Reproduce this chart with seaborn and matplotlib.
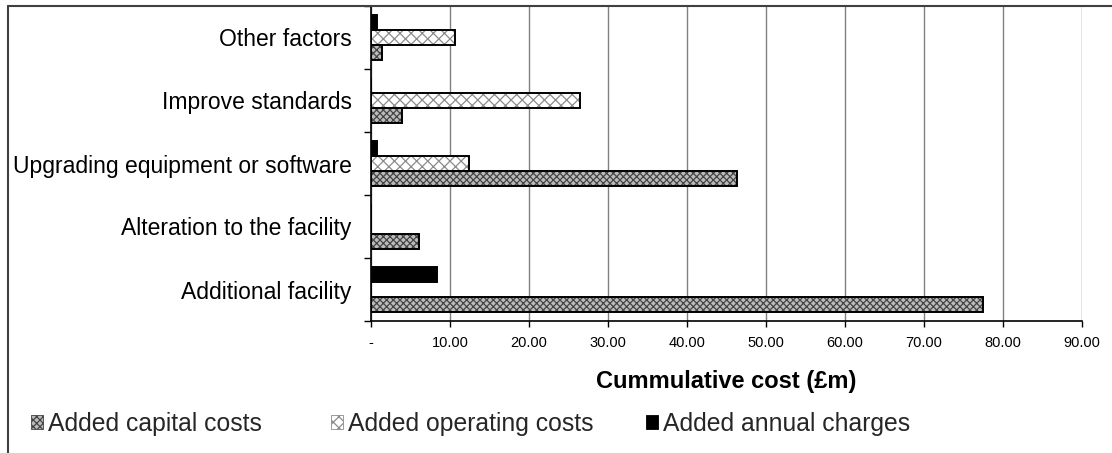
import numpy as np
import pandas as pd
import matplotlib
matplotlib.use("Agg")
import matplotlib.pyplot as plt
from matplotlib.lines import Line2D
from matplotlib.patches import Patch
import seaborn as sns

# ---- data -------------------------------------------------------------
categories = [
    "Other factors",
    "Improve standards",
    "Upgrading equipment or software",
    "Alteration to the facility",
    "Additional facility",
]
capital_costs = [1.4, 3.9, 46.3, 6.1, 77.5]
operating_costs = [10.6, 26.5, 12.4, 0.0, 0.0]
annual_charges = [0.8, 0.0, 0.8, 0.0, 8.4]

series_names = ["Added capital costs", "Added operating costs", "Added annual charges"]
x_ticks = [0, 10, 20, 30, 40, 50, 60, 70, 80, 90]
x_tick_labels = ["-", "10.00", "20.00", "30.00", "40.00", "50.00",
                 "60.00", "70.00", "80.00", "90.00"]
x_label = "Cummulative cost (£m)"

# ---- styling ----------------------------------------------------------
sns.set_theme(style="white")
plt.rcParams["font.family"] = ["Liberation Sans", "DejaVu Sans"]
plt.rcParams["hatch.linewidth"] = 0.9

styles = {
    "Added capital costs":   dict(face="#bcbcbc", hatch="xxxxx", hcolor="#454545"),
    "Added operating costs": dict(face="#ffffff", hatch="xxx",   hcolor="#8c8c8c"),
    "Added annual charges":  dict(face="#000000", hatch="",      hcolor="#000000"),
}

df = pd.DataFrame({
    "category": categories * 3,
    "series": ([series_names[0]] * len(categories)
               + [series_names[1]] * len(categories)
               + [series_names[2]] * len(categories)),
    "value": capital_costs + operating_costs + annual_charges,
})

# top-to-bottom within each group: annual, operating, capital
hue_order = [series_names[2], series_names[1], series_names[0]]

fig = plt.figure(figsize=(11.12, 4.53), dpi=100)
ax = fig.add_axes([371 / 1112, 1 - 321 / 453, 711 / 1112, 315 / 453])

# filled, hatched bars
sns.barplot(data=df, x="value", y="category", hue="series", order=categories,
            hue_order=hue_order, orient="h", width=0.72, errorbar=None,
            palette=[styles[s]["face"] for s in hue_order], saturation=1,
            legend=False, ax=ax)
for name, cont in zip(hue_order, ax.containers):
    st = styles[name]
    for bar in cont:
        bar.set_hatch(st["hatch"])
        bar.set_edgecolor(st["hcolor"])
        bar.set_linewidth(0)

# black outlines on top
sns.barplot(data=df, x="value", y="category", hue="series", order=categories,
            hue_order=hue_order, orient="h", width=0.72, errorbar=None,
            palette=["black"] * 3, fill=False, linewidth=1.4,
            legend=False, ax=ax)

# ---- axes -------------------------------------------------------------
ax.set_xlim(0, 90)
ax.set_ylim(len(categories) - 0.5, -0.5)
ax.set_xticks(x_ticks)
ax.set_xticklabels(x_tick_labels, fontsize=10.5)
ax.set_yticks(range(len(categories)))
ax.set_yticklabels(categories, fontsize=16.5)
ax.set_yticks(np.arange(-0.5, len(categories), 1.0), minor=True)
ax.tick_params(axis="y", which="major", length=0, pad=14, colors="black")
ax.tick_params(axis="y", which="minor", length=5, width=1, color="black",
               direction="out", left=True)
ax.tick_params(axis="x", which="major", length=4, width=1, color="black",
               direction="out", bottom=True, pad=7, labelcolor="black")
ax.set_ylabel("")
ax.set_xlabel(x_label, fontsize=17, fontweight="bold", labelpad=14, color="black")

ax.grid(axis="x", color="#808080", linewidth=1)
ax.grid(axis="y", visible=False)
ax.set_axisbelow(True)
for side in ("top", "right"):
    ax.spines[side].set_visible(False)
for side in ("left", "bottom"):
    ax.spines[side].set_color("black")
    ax.spines[side].set_linewidth(1.2)

# ---- legend: one entry per slot along the bottom ----------------------
legend_slots = [31, 331, 646]
for name, left in zip(series_names, legend_slots):
    st = styles[name]
    handle = Patch(facecolor=st["face"], hatch=st["hatch"],
                   edgecolor=st["hcolor"], linewidth=0.6)
    fig.legend([handle], [name], loc="center left",
               bbox_to_anchor=(left / 1112, 1 - 424 / 453), frameon=False,
               fontsize=17.8, handlelength=0.48, handleheight=0.48,
               handletextpad=0.22, borderaxespad=0, borderpad=0)

# chart frame
frame_kw = dict(color="#404040", linewidth=1.5, transform=fig.transFigure)
fig.add_artist(Line2D([8 / 1112, 8 / 1112], [0, 1 - 6 / 453], **frame_kw))
fig.add_artist(Line2D([8 / 1112, 1], [1 - 6 / 453, 1 - 6 / 453], **frame_kw))

fig.savefig("out.png", dpi=100)
